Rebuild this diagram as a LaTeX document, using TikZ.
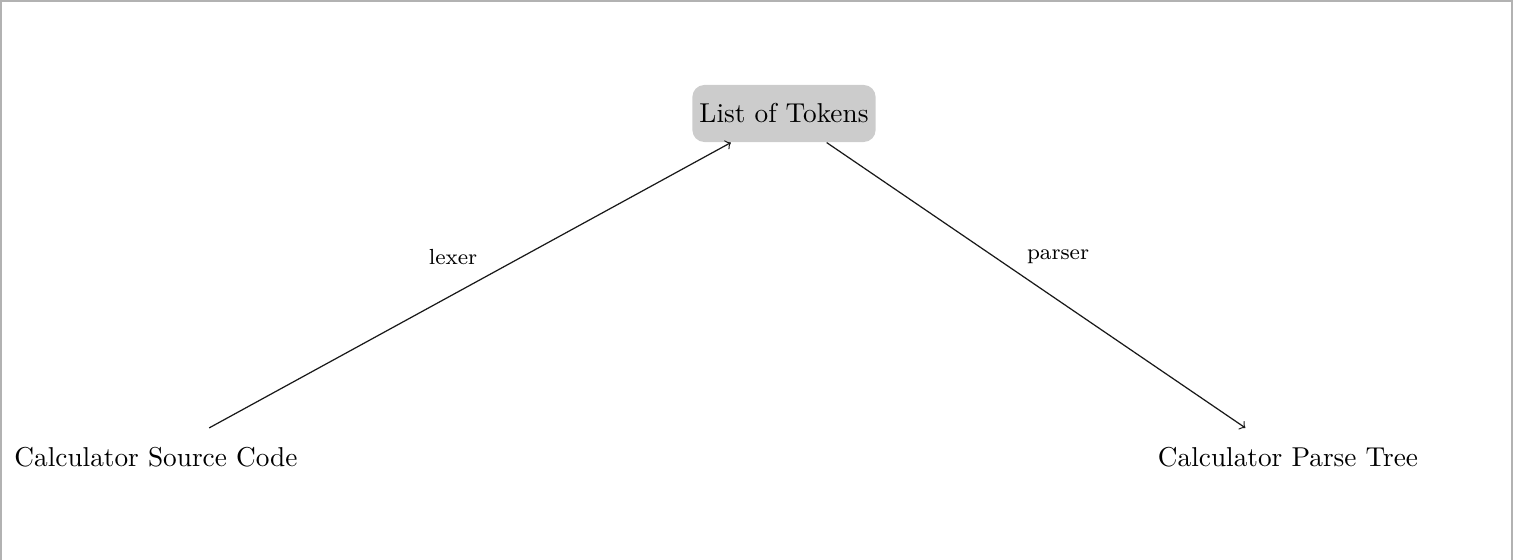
\documentclass[tikz,border=0pt]{standalone}
\usetikzlibrary{calc}
\begin{document}
\begin{tikzpicture}[x=0.3663pt,y=-0.3663pt,
  stage/.style={minimum height=20.9pt,inner xsep=2.6pt,font=\normalsize},
  tokbox/.style={stage,fill=gray!40,rounded corners=4.4pt},
  edgelabel/.style={font=\footnotesize,inner sep=1pt,text=black},
  flow/.style={->,black!90,line width=0.45pt}]
\useasboundingbox (0,0) rectangle (1513,560);
\draw[gray!60,line width=0.6pt] (0.8,560) -- (0.8,0.8) -- (1512.2,0.8) -- (1512.2,560);
\node[tokbox] (tok) at (784,113.5) {List of Tokens};
\node[stage] (src) at (156,457) {Calculator Source Code};
\node[stage] (tree) at (1288,457) {Calculator Parse Tree};
\draw[flow] (src) -- node[edgelabel,shift={(-17,-28)}] {lexer} (tok);
\draw[flow] (tok) -- node[edgelabel,shift={(22,-28)}] {parser} (tree);
\end{tikzpicture}
\end{document}
